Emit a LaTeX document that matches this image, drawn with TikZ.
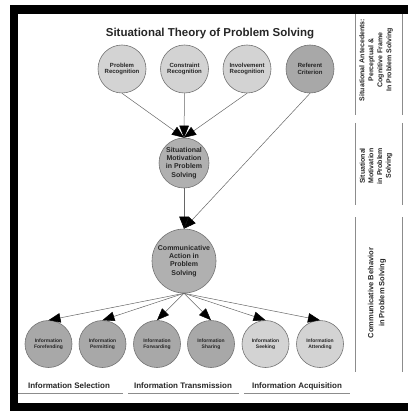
\documentclass[tikz,border=0pt]{standalone}
\usepackage{fontspec}
\setmainfont{Liberation Sans}
\usetikzlibrary{arrows.meta}
\definecolor{lightdisk}{HTML}{D3D3D3}
\definecolor{darkdisk}{HTML}{A8A8A8}
\definecolor{middisk}{HTML}{B0B0B0}

\begin{document}
\begin{tikzpicture}[x=1pt,y=-1pt,
    disk/.style={circle,draw=black!55,line width=0.6pt,inner sep=0pt,align=center,text=black!85},
    topdisk/.style={disk,minimum size=48pt,font=\bfseries\fontsize{6}{6.8}\selectfont},
    middisk/.style={disk,font=\bfseries\fontsize{7}{8.2}\selectfont},
    lowdisk/.style={disk,minimum size=47pt,font=\bfseries\fontsize{5}{6.2}\selectfont},
    arr/.style={draw=black!60,line width=0.5pt,-{Triangle[length=12pt,width=9.5pt,fill=black,color=black]}},
    band/.style={align=center,rotate=90,text=black!85},
    rule/.style={draw=black!45,line width=0.7pt}]
    \useasboundingbox (0,0) rectangle (408,414);
    % frame
    \fill (10,5) rectangle (408,14);
    \fill (10,5) rectangle (18,411);
    \fill (10,403) rectangle (408,411);
    \node[font=\bfseries\fontsize{11.5}{13}\selectfont,text=black!85] (T) at (210,34) {Situational Theory of Problem Solving};
    % antecedents
    \node[topdisk,fill=lightdisk] (P) at (122,69) {Problem\\Recognition};
    \node[topdisk,fill=lightdisk] (C) at (184.5,69) {Constraint\\Recognition};
    \node[topdisk,fill=lightdisk] (I) at (247,69) {Involvement\\Recognition};
    \node[topdisk,fill=darkdisk] (R) at (310,69) {Referent\\Criterion};
    \node[middisk,fill=middisk,minimum size=50pt] (M) at (184,163) {Situational\\Motivation\\in Problem\\Solving};
    \node[middisk,fill=middisk,minimum size=64pt] (A) at (184,261) {Communicative\\Action in\\Problem\\Solving};
    % behaviours
    \node[lowdisk,fill=darkdisk] (F1) at (48.5,344) {Information\\Forefending};
    \node[lowdisk,fill=darkdisk] (F2) at (102.5,344) {Information\\Permitting};
    \node[lowdisk,fill=darkdisk] (F3) at (157,344) {Information\\Forwarding};
    \node[lowdisk,fill=darkdisk] (F4) at (211,344) {Information\\Sharing};
    \node[lowdisk,fill=lightdisk] (F5) at (265.5,344) {Information\\Seeking};
    \node[lowdisk,fill=lightdisk] (F6) at (320,344) {Information\\Attending};
    \foreach \s in {P,C,I}
        \draw[arr] (\s.south) -- (M.north);
    \draw[arr] (R.south) -- (A.north);
    \draw[arr] (M.south) -- (A.north);
    \foreach \k in {1,...,6}
        \draw[arr] (A.south) -- (F\k.north);
    % groups
    \node[font=\bfseries\fontsize{8}{9}\selectfont,text=black!85] (S1) at (69,386) {Information Selection};
    \node[font=\bfseries\fontsize{8}{9}\selectfont,text=black!85] (S2) at (183,386) {Information Transmission};
    \node[font=\bfseries\fontsize{8}{9}\selectfont,text=black!85] (S3) at (297,386) {Information Acquisition};
    \draw[rule] (18,393) -- (123,393);
    \draw[rule] (128,393) -- (239,393);
    \draw[rule] (244,393) -- (350,393);
    % side column
    \foreach \a/\b in {14/115,123/205,217/372} {
        \draw[rule] (355,\a) -- (355,\b);
        \draw[rule] (402,\a) -- (402,\b);
    }
    \node[band,font=\bfseries\fontsize{7}{9}\selectfont] (B1) at (376,60) {Situational Antecedents:\\Perceptual \&\\Cognitive Frame\\In Problem Solving};
    \node[band,font=\bfseries\fontsize{7}{8.7}\selectfont] (B2) at (376,166) {Situational\\Motivation\\in Problem\\Solving};
    \node[band,font=\bfseries\fontsize{7.5}{11}\selectfont] (B3) at (377,293) {Communicative Behavior\\in Problem Solving};
\end{tikzpicture}
\end{document}
